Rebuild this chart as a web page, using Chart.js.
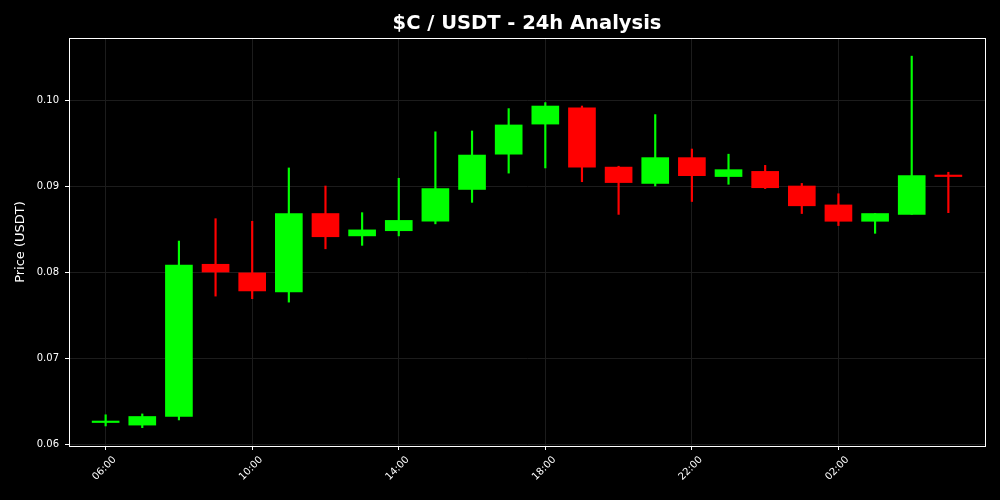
<!DOCTYPE html>
<html>
<head>
<meta charset="utf-8">
<script src="https://cdn.jsdelivr.net/npm/chart.js@4.4.1/dist/chart.umd.min.js"></script>
<style>
  html, body { margin: 0; background: #000; }
</style>
</head>
<body>
<canvas id="chart" width="1000" height="500"></canvas>
<script>
const hours = ['06:00', '07:00', '08:00', '09:00', '10:00', '11:00', '12:00', '13:00',
  '14:00', '15:00', '16:00', '17:00', '18:00', '19:00', '20:00', '21:00',
  '22:00', '23:00', '00:00', '01:00', '02:00', '03:00', '04:00', '05:00'];
const opens = [0.0625, 0.0622, 0.0632, 0.0809, 0.0799, 0.0777, 0.0868, 0.0842,
  0.0848, 0.0859, 0.0896, 0.0937, 0.0972, 0.0991, 0.0922, 0.0903,
  0.0933, 0.0911, 0.0917, 0.0900, 0.0878, 0.0859, 0.0867, 0.09115];
const highs = [0.0634, 0.0635, 0.0836, 0.0862, 0.0859, 0.0921, 0.0900, 0.0869,
  0.0909, 0.0963, 0.0964, 0.0990, 0.0997, 0.0993, 0.0923, 0.0983,
  0.0943, 0.0937, 0.0924, 0.0903, 0.0891, 0.0868, 0.1051, 0.0916];
const lows = [0.0621, 0.0619, 0.0628, 0.0772, 0.0769, 0.0765, 0.0827, 0.0831,
  0.0842, 0.0856, 0.0881, 0.0915, 0.0921, 0.0905, 0.0867, 0.0900,
  0.0882, 0.0902, 0.0897, 0.0868, 0.0854, 0.0845, 0.0867, 0.0869];
const closes = [0.06255, 0.0632, 0.0808, 0.0800, 0.0778, 0.0868, 0.0841, 0.0849,
  0.0860, 0.0897, 0.0936, 0.0971, 0.0993, 0.0922, 0.0904, 0.0933,
  0.0912, 0.0919, 0.0898, 0.0877, 0.0859, 0.0868, 0.0912, 0.0911];
const tickIdx = [0, 4, 8, 12, 16, 20];

const UP = '#00ff00';
const DOWN = '#ff0000';
const colors = opens.map((o, i) => closes[i] >= o ? UP : DOWN);

Chart.defaults.font.family = 'DejaVu Sans';
Chart.defaults.color = '#ffffff';

// full white frame round the plot, and a title centred over the plot
const frame = {
  id: 'frame',
  afterDraw(chart) {
    const {ctx, chartArea: a} = chart;
    ctx.save();
    ctx.strokeStyle = '#ffffff';
    ctx.lineWidth = 1;
    ctx.strokeRect(a.left + 0.5, a.top + 0.5, a.right - a.left, a.bottom - a.top);
    ctx.fillStyle = '#ffffff';
    ctx.font = 'bold 19.5px "DejaVu Sans"';
    ctx.textAlign = 'center';
    ctx.textBaseline = 'middle';
    ctx.fillText('$C / USDT - 24h Analysis', (a.left + a.right) / 2, 24);
    ctx.restore();
  }
};

new Chart(document.getElementById('chart'), {
  type: 'bar',
  data: {
    datasets: [
      {
        label: 'body',
        data: hours.map((h, i) => ({x: i, y: [opens[i], closes[i]]})),
        backgroundColor: colors,
        barThickness: 27,
        minBarLength: 1.5,
        grouped: false
      },
      {
        label: 'wick',
        data: hours.map((h, i) => ({x: i, y: [lows[i], highs[i]]})),
        backgroundColor: colors,
        barThickness: 1.5,
        grouped: false
      }
    ]
  },
  options: {
    responsive: false,
    animation: false,
    layout: {padding: {top: 38, right: 15, left: 0, bottom: 0}},
    plugins: {
      legend: {display: false},
      tooltip: {enabled: false},
      title: {display: false}
    },
    scales: {
      x: {
        type: 'linear',
        min: -1,
        max: 24,
        offset: false,
        afterFit: s => { s.height = 54; },
        afterBuildTicks: s => { s.ticks = tickIdx.map(v => ({value: v})); },
        ticks: {
          callback: v => hours[v],
          maxRotation: 45,
          minRotation: 45,
          padding: 4,
          labelOffset: 9,
          font: {size: 10},
          color: '#ffffff'
        },
        grid: {offset: false, color: '#1c1c1c', tickColor: '#ffffff', tickLength: 4},
        border: {color: '#ffffff'}
      },
      y: {
        min: 0.05977,
        max: 0.10721,
        afterFit: s => { s.width = 69; },
        ticks: {
          stepSize: 0.01,
          includeBounds: false,
          callback: v => v.toFixed(2),
          padding: 6,
          font: {size: 10},
          color: '#ffffff'
        },
        grid: {color: '#1c1c1c', tickColor: '#ffffff', tickLength: 4},
        border: {color: '#ffffff'},
        title: {
          display: true,
          text: 'Price (USDT)',
          color: '#ffffff',
          font: {size: 13},
          padding: {top: 13, bottom: 0}
        }
      }
    }
  },
  plugins: [frame]
});
</script>
</body>
</html>
